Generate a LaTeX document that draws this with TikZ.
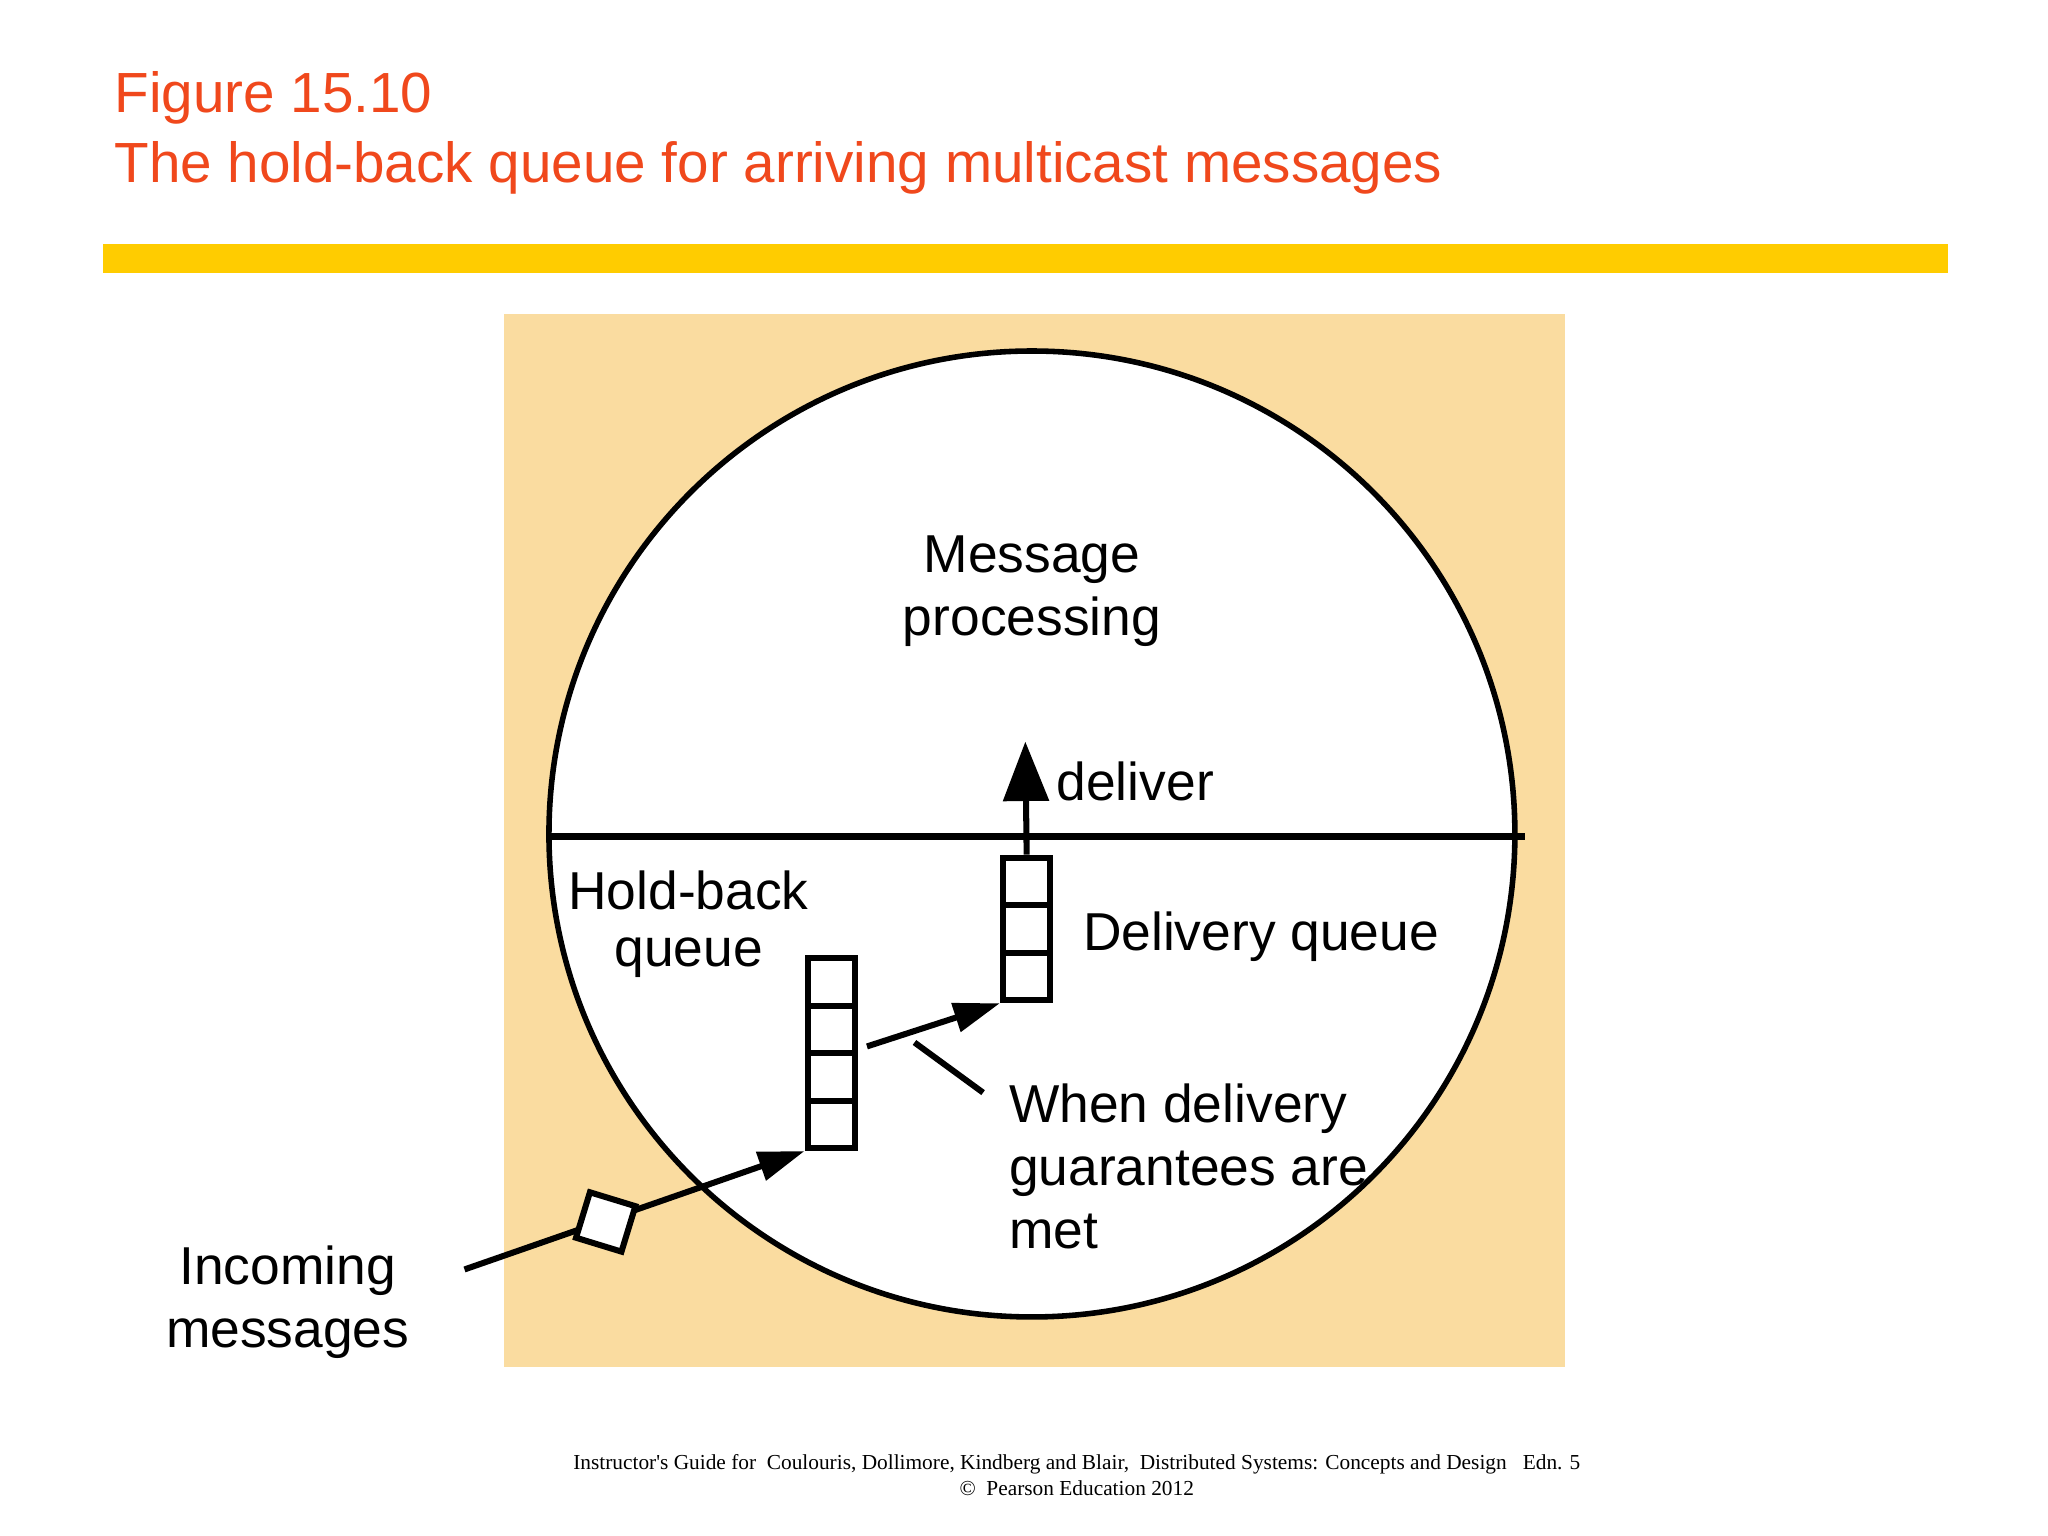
\documentclass[tikz,border=0pt]{standalone}
\usepackage{fontspec}
\setmainfont{Liberation Sans}
\newfontfamily\timesf{Liberation Serif}
\usetikzlibrary{arrows.meta}
\definecolor{ttl}{RGB}{240,72,28}
\definecolor{bar}{RGB}{255,204,0}
\definecolor{tan}{RGB}{250,220,160}
\begin{document}
\begin{tikzpicture}[x=0.01cm,y=-0.01cm,
  lbl/.style={font=\fontsize{11.5pt}{13.5pt}\selectfont,inner sep=0pt},
  cell/.style={draw,line width=1.3pt,minimum width=0.36cm,minimum height=0.36cm,inner sep=0pt}]
\useasboundingbox (0,0) rectangle (1552,1164);
\fill[white] (0,0) rectangle (1552,1164);
\node[anchor=base west,text=ttl,font=\fontsize{12.2pt}{15pt}\selectfont,inner sep=0pt] (t1) at (86,85) {Figure 15.10};
\node[anchor=base west,text=ttl,font=\fontsize{12.2pt}{15pt}\selectfont,inner sep=0pt] (t2) at (86,138) {The hold-back queue for arriving multicast messages};
\fill[bar] (78,185) rectangle (1476,207);
\fill[tan] (382,238) rectangle (1186,1036);
\draw[line width=1.2pt,fill=white] (782,632) circle (366);
\draw[line width=1.5pt] (414,634) -- (1156,634);
\node[lbl,align=center] (mp) at (782,448) {Message\\processing};
\foreach \i in {0,1,2} \node[cell] (d\i) at (778,668+\i*36) {};
\foreach \i in {0,1,2,3} \node[cell] (h\i) at (630,744+\i*36) {};
\coordinate (dtop) at (777,562);
\draw[line width=1.3pt,-{Triangle[length=0.45cm,width=0.34cm]}] (d0.north) -- (dtop);
\node[lbl,anchor=west] (dl) at (800,592) {deliver};
\node[lbl,anchor=west] (dq) at (820,710) {Delivery queue};
\node[lbl,anchor=west] (hb) at (430,675) {Hold-back};
\node[lbl] (hq) at (522,726) {queue};
\coordinate (a1) at (657,793);
\draw[line width=1.3pt,-{Triangle[length=0.35cm,width=0.22cm]}] (a1) -- (d2.south west);
\coordinate (p1) at (693,790); \coordinate (p2) at (745,828);
\draw[line width=1.3pt] (p1) -- (p2);
\node[lbl,anchor=west,align=left] (wd) at (764,884) {When delivery\\guarantees are\\met};
\coordinate (in) at (352,962);
\draw[line width=1.3pt,-{Triangle[length=0.35cm,width=0.22cm]}] (in) -- (h3.south west);
\node[draw,line width=1.3pt,fill=white,minimum size=0.36cm,inner sep=0pt,rotate=-17] (m) at (459,926) {};
\node[lbl,align=center] (im) at (218,987) {Incoming\\messages};
\node[align=center,font=\timesf\fontsize{4.6pt}{5.6pt}\selectfont,inner sep=0pt] (ft) at (816,1118) {Instructor's Guide for\ \ Coulouris, Dollimore, Kindberg and Blair,\ \ Distributed Systems: Concepts and Design\ \ \ Edn. 5\\ ©\ \ Pearson Education 2012};
\end{tikzpicture}
\end{document}
